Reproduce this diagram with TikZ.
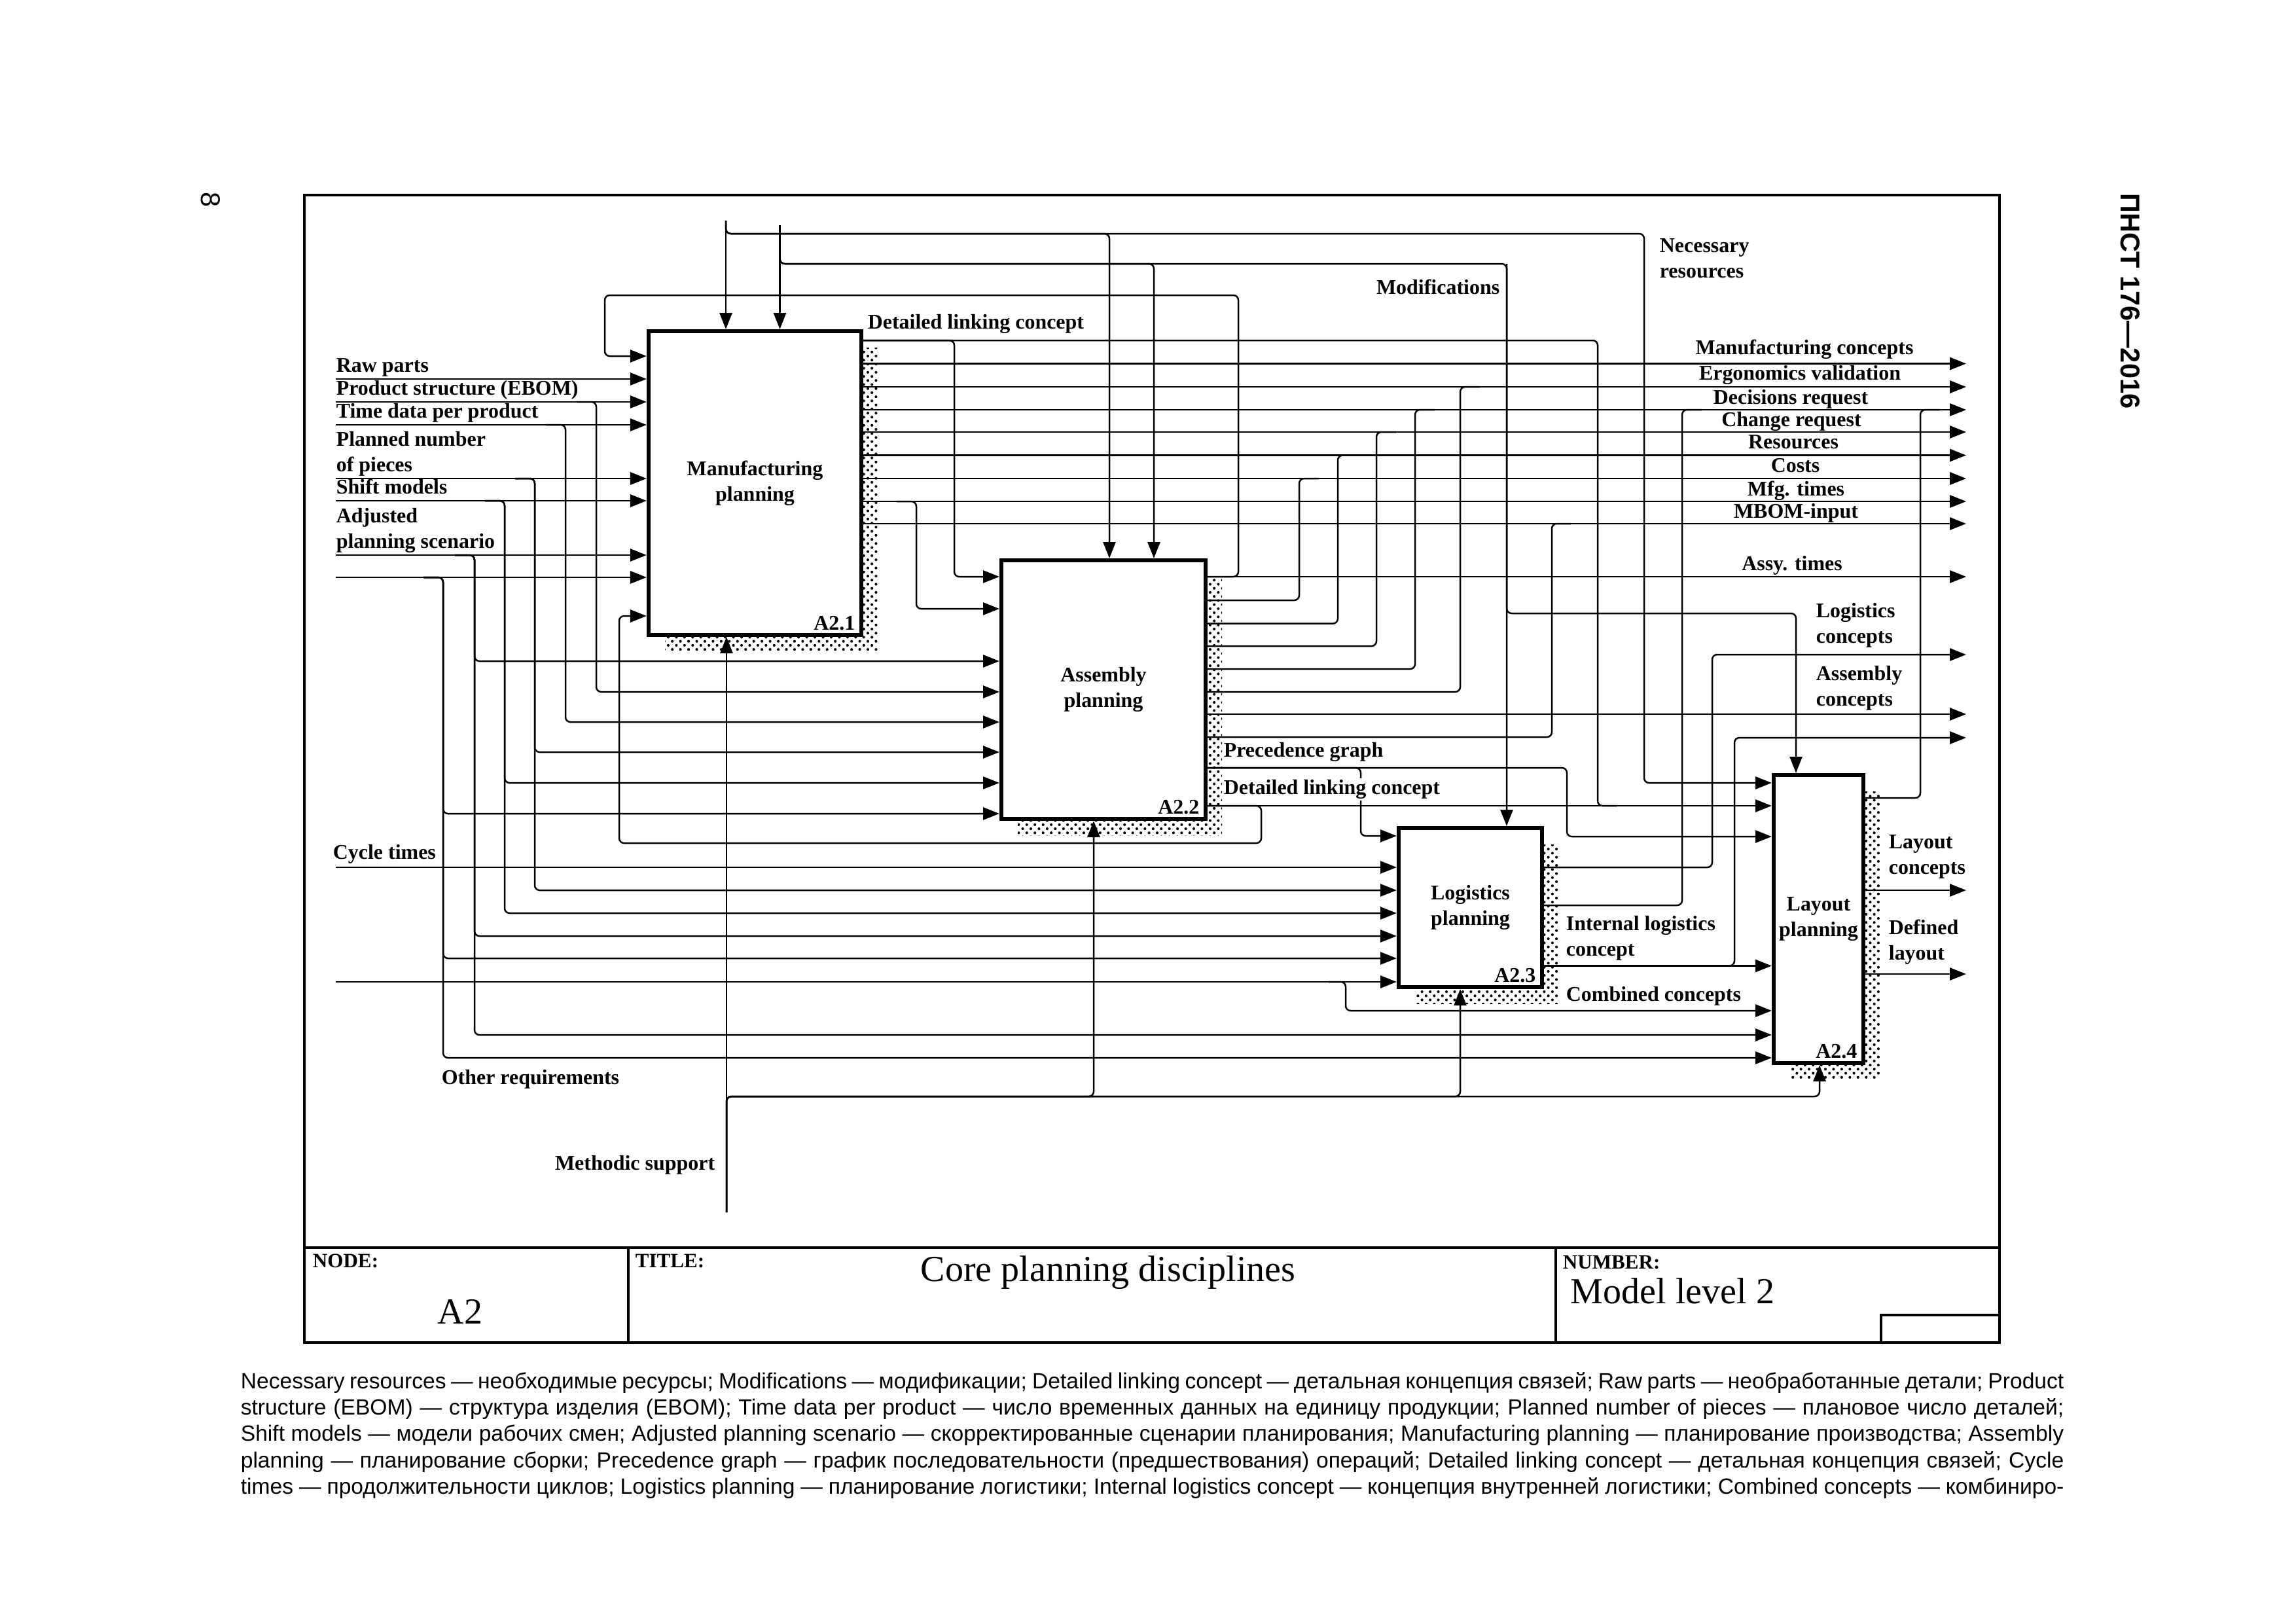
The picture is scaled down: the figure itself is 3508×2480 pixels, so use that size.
\documentclass[tikz,border=0pt]{standalone}
\usepackage{fontspec}
\setmainfont{Liberation Serif}
\newfontfamily\capsans{Liberation Sans}
\usetikzlibrary{arrows.meta,patterns,calc}

\newcommand\pxu{0.0084664cm}
\newcommand\idffont{\fontsize{7.7}{9.35}\selectfont\bfseries}
\newcommand\tbfont{\fontsize{7.5}{9}\selectfont\bfseries}
\newcommand\bigfont{\fontsize{13.5}{16}\selectfont}
\newcommand\capline[1]{\makebox[23.59cm][s]{#1}}

\tikzset{
  conn/.style={line width=0.6pt, rounded corners=1.8pt},
  arr/.style={conn, -{Triangle[length=6pt,width=4.6pt]}},
  act/.style={draw, line width=1.5pt, fill=white, inner sep=0pt, align=center, font=\idffont},
  shade/.style={pattern=crosshatch dots, pattern color=black},
  lbl/.style={font=\idffont, inner sep=0pt, text depth=0pt, align=left},
  boxno/.style={lbl, anchor=south east},
  frame/.style={line width=0.8pt},
}

\begin{document}
\begin{tikzpicture}[x=\pxu, y=-\pxu]
\useasboundingbox (0,0) rectangle (3508,2480);

% Frame and title block
\draw[frame] (465,298) rectangle (3055,2051);
\draw[frame] (465,1906) -- (3055,1906) (960,1906) -- (960,2051) (2377,1906) -- (2377,2051)
  (2874,2051) -- (2874,2009) -- (3055,2009);

% Shadows
\path[shade] (1016,531) rectangle (1341,995);
\path[shade] (1555,881) rectangle (1867,1276);
\path[shade] (2162,1290) rectangle (2381,1533);
\path[shade] (2735,1209) rectangle (2872,1649);

% Activities
\node[act, minimum width=325*\pxu, minimum height=464*\pxu] (a21) at (1153.5,738) {Manufacturing\\planning};
\node[act, minimum width=312*\pxu, minimum height=395*\pxu] (a22) at (1686,1053.5) {Assembly\\planning};
\node[act, minimum width=219*\pxu, minimum height=243*\pxu] (a23) at (2246.5,1386.5) {Logistics\\planning};
\node[act, minimum width=137*\pxu, minimum height=440*\pxu] (a24) at (2778.5,1404) {Layout\\planning};
\node[boxno] (n21) at ($(a21.south east)+(-12,-10)$) {A2.1};
\node[boxno] (n22) at ($(a22.south east)+(-12,-10)$) {A2.2};
\node[boxno] (n23) at ($(a23.south east)+(-12,-10)$) {A2.3};
\node[boxno] (n24) at ($(a24.south east)+(-12,-10)$) {A2.4};

% Controls
\draw[arr] (1109,337) -- (1109,337 |- a21.north);
\draw[arr] (1109,337) -- (1109,357) -- (1695,357) -- (1695,357 |- a22.north);
\draw[arr] (1109,337) -- (1109,357) -- (2512,357) -- (2512,1196) -- (a24.west |- 0,1196);
\draw[arr] (1191.5,344) -- (1191.5,344 |- a21.north);
\draw[arr] (1191.5,344) -- (1191.5,403) -- (1763,403) -- (1763,403 |- a22.north);
\draw[arr] (1191.5,344) -- (1191.5,403) -- (2302,403) -- (2302,403 |- a23.north);
\draw[arr] (2302,403) -- (2302,937) -- (2744,937) -- (2744,937 |- a24.north);

% Inputs from the left
\foreach \y in {579,614,649,731,765,848,882}
  \draw[arr] (513,\y) -- (a21.west |- 0,\y);
\foreach \x/\ya/\yb in {911/614/1057, 864/649/1103, 817/731/1149, 771/765/1196, 725/848/1010, 677/882/1243}
  \draw[arr] (\x-30,\ya) -- (\x,\ya) -- (\x,\yb) -- (a22.west |- 0,\yb);
\foreach \x/\ya/\yb in {817/731/1360, 771/765/1395, 725/848/1430, 677/882/1464}
  \draw[arr] (\x-30,\ya) -- (\x,\ya) -- (\x,\yb) -- (a23.west |- 0,\yb);
\foreach \x/\ya/\yb in {725/848/1581, 677/882/1616}
  \draw[arr] (\x-30,\ya) -- (\x,\ya) -- (\x,\yb) -- (a24.west |- 0,\yb);
\draw[arr] (513,1325) -- (a23.west |- 0,1325);
\draw[arr] (513,1500) -- (a23.west |- 0,1500);
\draw[arr] (2030,1500) -- (2056,1500) -- (2056,1544) -- (a24.west |- 0,1544);

% Outputs of A2.1
\foreach \y in {555.5,591,626,660,695.5,731,766,800}
  \draw[arr] (a21.east |- 0,\y) -- (3004,\y);
\draw[conn] (a21.east |- 0,520) -- (2441,520) -- (2441,1231) -- (2470,1231);
\draw[arr] (a21.east |- 0,520) -- (1458,520) -- (1458,881) -- (a22.west |- 0,881);
\draw[arr] (1370,766) -- (1400,766) -- (1400,930) -- (a22.west |- 0,930);

% Outputs of A2.2
\draw[arr] (a22.east |- 0,881) -- (3004,881);
\draw[arr] (a22.east |- 0,881) -- (1892,881) -- (1892,451) -- (924,451) -- (924,544) -- (a21.west |- 0,544);
\foreach \y/\x/\yt in {917/1985/731, 952.6/2044/695.5, 987/2103/660, 1022/2162/626, 1057/2231/591}
  \draw[conn] (a22.east |- 0,\y) -- (\x,\y) -- (\x,\yt) -- (\x+30,\yt);
\draw[arr] (a22.east |- 0,1091) -- (3004,1091);
\draw[conn] (a22.east |- 0,1126) -- (2371,1126) -- (2371,800) -- (2400,800);
\draw[arr] (a22.east |- 0,1173) -- (2394,1173) -- (2394,1278) -- (a24.west |- 0,1278);
\draw[arr] (a22.east |- 0,1173) -- (2079,1173) -- (2079,1277) -- (a23.west |- 0,1277);
\draw[arr] (a22.east |- 0,1231) -- (a24.west |- 0,1231);
\draw[arr] (a22.east |- 0,1231) -- (1927,1231) -- (1927,1288) -- (946,1288) -- (946,941) -- (a21.west |- 0,941);

% Outputs of A2.3
\draw[arr] (a23.east |- 0,1325) -- (2616,1325) -- (2616,1000) -- (3004,1000);
\draw[conn] (a23.east |- 0,1383) -- (2570,1383) -- (2570,626) -- (2600,626);
\draw[arr] (a23.east |- 0,1475.5) -- (a24.west |- 0,1475.5);
\draw[arr] (a23.east |- 0,1475.5) -- (2650,1475.5) -- (2650,1127) -- (3004,1127);

% Outputs of A2.4
\draw[conn] (a24.east |- 0,1219) -- (2934,1219) -- (2934,626) -- (2964,626);
\draw[arr] (a24.east |- 0,1360) -- (3004,1360);
\draw[arr] (a24.east |- 0,1488) -- (3004,1488);

% Mechanisms
\draw[arr] (1110,1852) -- (1110,1852 |- a21.south);
\draw[arr] (1110,1852) -- (1110,1675) -- (1671,1675) -- (1671,1675 |- a22.south);
\draw[arr] (1110,1852) -- (1110,1675) -- (2231,1675) -- (2231,1675 |- a23.south);
\draw[arr] (1110,1852) -- (1110,1675) -- (2780,1675) -- (2780,1675 |- a24.south);

% Labels
\node[lbl, anchor=south west] (raw) at (513,569) {Raw parts};
\node[lbl, anchor=south west] (ebom) at (513,604) {Product structure (EBOM)};
\node[lbl, anchor=south west] (tdp) at (513,639) {Time data per product};
\node[lbl, anchor=south west] (pnp) at (513,721) {Planned number\\of pieces};
\node[lbl, anchor=south west] (shm) at (513,755) {Shift models};
\node[lbl, anchor=south west] (aps) at (513,838) {Adjusted\\planning scenario};
\node[lbl, anchor=south west] (cyc) at (508,1313) {Cycle times};
\node[lbl, anchor=south west] (oreq) at (674,1657) {Other requirements};
\node[lbl, anchor=south east] (meth) at (1093,1788) {Methodic support};
\node[lbl, anchor=south east] (mods) at (2292,450) {Modifications};
\node[lbl, anchor=south west] (nres) at (2535,425) {Necessary\\resources};
\node[lbl, anchor=south west] (dlc1) at (1325,503) {Detailed linking concept};
\node[lbl, anchor=south west] (prec) at (1869,1157) {Precedence graph};
\node[lbl, anchor=base west, fill=white, text depth=2pt, inner ysep=0.5pt] (dlc2) at (1869,1213) {Detailed linking concept};
\node[lbl, anchor=south west] (ilc) at (2392,1461) {Internal logistics\\concept};
\node[lbl, anchor=south west] (comb) at (2392,1530) {Combined concepts};
\node[lbl, anchor=south west] (logc) at (2774,983) {Logistics\\concepts};
\node[lbl, anchor=south west] (asmc) at (2774,1079) {Assembly\\concepts};
\node[lbl, anchor=south west] (layc) at (2885,1336) {Layout\\concepts};
\node[lbl, anchor=south west] (defl) at (2885,1467) {Defined\\layout};
\foreach \b/\cx/\t [count=\i] in {542/2757/Manufacturing concepts, 581/2750/Ergonomics validation,
    618/2736/Decisions request, 652/2737/Change request, 686/2740/Resources, 722/2743/Costs,
    758/2744/Mfg. times, 792/2744/MBOM-input, 872/2738/Assy. times}
  \node[lbl, anchor=south] (out\i) at (\cx,\b) {\t};

% Title block texts
\node[lbl, font=\tbfont, anchor=north west] (nodehd) at (477,1915) {NODE:};
\node[anchor=base, inner sep=0pt, font=\bigfont] (nodeno) at (703,2022) {A2};
\node[lbl, font=\tbfont, anchor=north west] (titlehd) at (970,1915) {TITLE:};
\node[anchor=base, inner sep=0pt, font=\bigfont] (title) at (1693,1957) {Core planning disciplines};
\node[lbl, font=\tbfont, anchor=north west] (numhd) at (2387,1917) {NUMBER:};
\node[anchor=base west, inner sep=0pt, font=\bigfont] (numno) at (2399,1991) {Model level 2};

% Page marks
\node[rotate=-90, inner sep=0pt, font=\capsans\fontsize{10}{12}\selectfont] (pg) at (322,305) {8};
\node[rotate=-90, inner sep=0pt, font=\capsans\bfseries\fontsize{10}{12}\selectfont] (std) at (3255,460) {ПНСТ 176—2016};

% Caption
\node[anchor=base west, inner sep=0pt, font=\capsans\fontsize{8.1}{9.75}\selectfont] (cap) at (367,2121) {%
\begin{tabular}[t]{@{}l@{}}
\capline{Necessary resources — необходимые ресурсы; Modifications — модификации; Detailed linking concept — детальная концепция связей; Raw parts — необработанные детали; Product}\\
\capline{structure (EBOM) — структура изделия (EBOM); Time data per product — число временных данных на единицу продукции; Planned number of pieces — плановое число деталей;}\\
\capline{Shift models — модели рабочих смен; Adjusted planning scenario — скорректированные сценарии планирования; Manufacturing planning — планирование производства; Assembly}\\
\capline{planning — планирование сборки; Precedence graph — график последовательности (предшествования) операций; Detailed linking concept — детальная концепция связей; Cycle}\\
\capline{times — продолжительности циклов; Logistics planning — планирование логистики; Internal logistics concept — концепция внутренней логистики; Combined concepts — комбиниро-}
\end{tabular}};
\end{tikzpicture}
\end{document}
